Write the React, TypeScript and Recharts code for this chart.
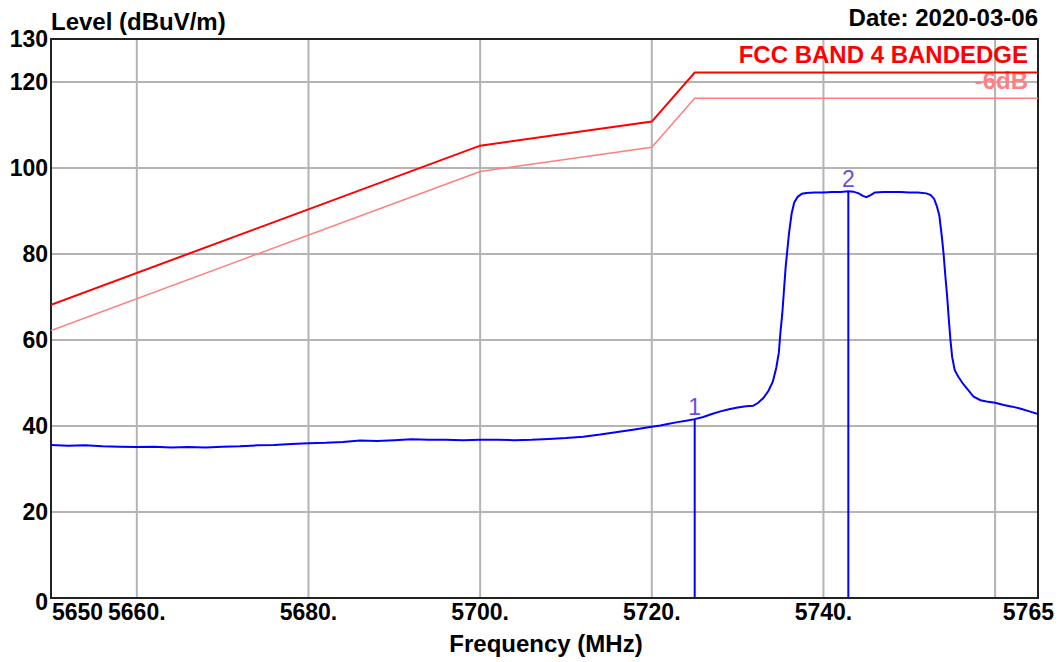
import {
  LineChart,
  Line,
  XAxis,
  YAxis,
  CartesianGrid,
  ReferenceLine,
  ReferenceArea,
} from "recharts";

// measured trace (MHz / dBuV/m)
const traceFreq = [
  5650, 5652, 5654, 5656, 5658, 5660, 5662, 5664, 5666, 5668, 5670, 5672,
  5674, 5676, 5678, 5680, 5682, 5684, 5686, 5688, 5690, 5692, 5694, 5696,
  5698, 5700, 5702, 5704, 5706, 5708, 5710, 5712, 5714, 5716, 5718, 5720,
  5721, 5722, 5723, 5724, 5725, 5726, 5727, 5728, 5729, 5730, 5731, 5731.8,
  5732.4, 5733, 5733.6, 5734.1, 5734.5, 5734.8, 5735, 5735.2, 5735.4, 5735.6,
  5735.8, 5736, 5736.3, 5736.6, 5737, 5737.5, 5738, 5739, 5740, 5741, 5742,
  5742.9, 5743.5, 5744.1, 5744.6, 5745, 5745.5, 5746, 5747, 5748, 5749, 5750,
  5751, 5752, 5752.5, 5752.9, 5753.2, 5753.5, 5753.8, 5754, 5754.2, 5754.4,
  5754.6, 5754.8, 5755, 5755.3, 5755.7, 5756.2, 5756.8, 5757.5, 5758.3, 5759,
  5760, 5761, 5762, 5763, 5764, 5765,
];
const traceLevel = [
  35.6, 35.4, 35.5, 35.3, 35.2, 35.1, 35.2, 35.0, 35.1, 35.0, 35.2, 35.3,
  35.5, 35.6, 35.8, 36.0, 36.1, 36.3, 36.6, 36.5, 36.7, 36.9, 36.8, 36.8,
  36.7, 36.8, 36.8, 36.7, 36.8, 37.0, 37.2, 37.5, 38.0, 38.6, 39.2, 39.8,
  40.1, 40.5, 40.9, 41.2, 41.6, 42.1, 42.8, 43.4, 43.9, 44.3, 44.6, 44.7,
  45.4, 46.5, 48.2, 50.3, 53.5, 57.0, 62.0, 66.0, 71.5, 77.0,
  81.0, 85.0, 89.5, 92.0, 93.3, 94.0, 94.2, 94.3, 94.3, 94.4, 94.4,
  94.6, 94.5, 94.1, 93.5, 93.2, 93.7, 94.3, 94.4, 94.4, 94.4, 94.3,
  94.3, 94.1, 93.7, 92.8, 91.2, 89.0, 84.0, 80.0, 75.0, 70.5,
  65.0, 60.0, 56.0, 53.0, 51.5, 50.0, 48.5, 46.8, 46.0, 45.7,
  45.4, 44.9, 44.5, 44.0, 43.4, 42.8,
];

// FCC band 4 bandedge limit and the -6 dB margin line
const limitFreq = [5650, 5700, 5720, 5725, 5765];
const limitLevel = [68.2, 105.2, 110.8, 122.2, 122.2];
const marginLevel = [62.2, 99.2, 104.8, 116.2, 116.2];

const markerNames = ["1", "2"];
const markerFreq = [5725, 5742.9];
const markerLevel = [41.6, 94.6];

const xTicks = [5650, 5660, 5680, 5700, 5720, 5740, 5765];
const xGrid = [5660, 5680, 5700, 5720, 5740, 5760];
const yTicks = [0, 20, 40, 60, 80, 100, 120, 130];
const yGrid = [20, 40, 60, 80, 100, 120];

const FONT = '"Liberation Sans", Arial, sans-serif';

const traceData = traceFreq.map((freq, i) => ({ freq, level: traceLevel[i] }));
const limitData = limitFreq.map((freq, i) => ({
  freq,
  limit: limitLevel[i],
  margin: marginLevel[i],
}));

const XTick = ({ x, y, payload }: any) => {
  const v = payload.value;
  let anchor: "start" | "middle" | "end" = "middle";
  let dx = 0;
  let label = `${v}.`;
  if (v === xTicks[0]) {
    anchor = "start";
    dx = 1;
    label = `${v}`;
  } else if (v === xTicks[xTicks.length - 1]) {
    anchor = "end";
    dx = 16;
    label = `${v}`;
  }
  return (
    <text
      x={x + dx}
      y={y + 22}
      textAnchor={anchor}
      fontFamily={FONT}
      fontWeight="bold"
      fontSize={23}
      fill="#000"
    >
      {label}
    </text>
  );
};

const YTick = ({ x, y, payload }: any) => (
  <text
    x={x - 3}
    y={y + (payload.value === 0 ? 12 : 8)}
    textAnchor="end"
    fontFamily={FONT}
    fontWeight="bold"
    fontSize={23}
    fill="#000"
  >
    {payload.value}
  </text>
);

export default function App() {
  return (
    <div style={{ position: "absolute", left: 0, top: 0, background: "#fff" }}>
      <LineChart
        width={1062}
        height={662}
        margin={{ top: 39, right: 24, left: 0, bottom: 0 }}
      >
        <CartesianGrid
          stroke="#b4b4b4"
          strokeWidth={2}
          horizontalValues={yGrid}
          verticalValues={xGrid}
        />
        <XAxis
          type="number"
          dataKey="freq"
          domain={[5650, 5765]}
          ticks={xTicks}
          allowDataOverflow
          height={64}
          tickSize={0}
          tickMargin={0}
          axisLine={false}
          tickLine={false}
          tick={<XTick />}
          interval={0}
        />
        <YAxis
          type="number"
          domain={[0, 130]}
          ticks={yTicks}
          width={51}
          tickSize={0}
          tickMargin={0}
          axisLine={false}
          tickLine={false}
          tick={<YTick />}
          interval={0}
        />
        <ReferenceArea
          x1={5650}
          x2={5765}
          y1={0}
          y2={130}
          fill="none"
          stroke="#222"
          strokeWidth={2}
          fillOpacity={0}
        />
        <Line
          data={limitData}
          dataKey="margin"
          type="linear"
          stroke="#ff7f7f"
          strokeWidth={1.5}
          dot={false}
          isAnimationActive={false}
        />
        <Line
          data={limitData}
          dataKey="limit"
          type="linear"
          stroke="#ff0000"
          strokeWidth={2}
          dot={false}
          isAnimationActive={false}
        />
        <Line
          data={traceData}
          dataKey="level"
          type="linear"
          stroke="#0000ff"
          strokeWidth={2}
          dot={false}
          isAnimationActive={false}
        />
        {markerNames.map((name, i) => (
          <ReferenceLine
            key={name}
            segment={[
              { x: markerFreq[i], y: 0 },
              { x: markerFreq[i], y: markerLevel[i] },
            ]}
            stroke="#0000ff"
            strokeWidth={2}
            label={{
              value: name,
              position: "top",
              offset: 4,
              fill: "#6a4fd6",
              fontFamily: FONT,
              fontSize: 23,
            }}
          />
        ))}
        <text
          x={51}
          y={30}
          fontFamily={FONT}
          fontWeight="bold"
          fontSize={24}
          fill="#000"
        >
          Level (dBuV/m)
        </text>
        <text
          x={1038}
          y={26}
          textAnchor="end"
          fontFamily={FONT}
          fontWeight="bold"
          fontSize={24}
          fill="#000"
        >
          Date: 2020-03-06
        </text>
        <text
          x={1028}
          y={63}
          textAnchor="end"
          fontFamily={FONT}
          fontWeight="bold"
          fontSize={24}
          fill="#ff0000"
        >
          FCC BAND 4 BANDEDGE
        </text>
        <text
          x={1028}
          y={89}
          textAnchor="end"
          fontFamily={FONT}
          fontWeight="bold"
          fontSize={24}
          fill="#ff8080"
        >
          -6dB
        </text>
        <text
          x={546}
          y={652}
          textAnchor="middle"
          fontFamily={FONT}
          fontWeight="bold"
          fontSize={24}
          fill="#000"
        >
          Frequency (MHz)
        </text>
      </LineChart>
    </div>
  );
}
